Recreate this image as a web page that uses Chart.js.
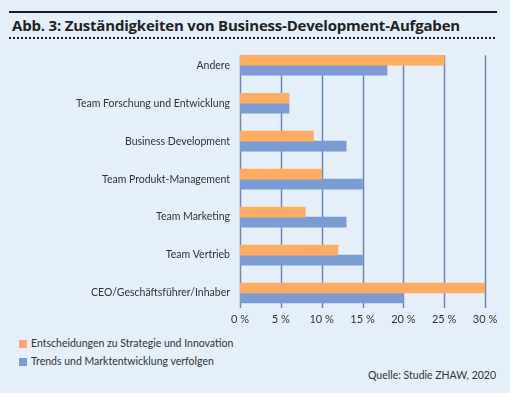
<!DOCTYPE html>
<html>
<head>
<meta charset="utf-8">
<script src="https://cdn.jsdelivr.net/npm/chart.js@4"></script>
<style>
  html, body { margin: 0; padding: 0; background: #fff; }
  #panel { position: relative; width: 510px; height: 393px; background: #e4eff9; font-family: Lato, sans-serif; color: #333; }
  #topline { position: absolute; left: 9px; top: 11px; width: 488px; height: 2px; background: #1a1a1a; }
  #title { position: absolute; left: 12px; top: 15px; font-family: "Open Sans", sans-serif; font-size: 15px; font-weight: bold; color: #222; white-space: nowrap; letter-spacing: -0.2px; }
  #dots { position: absolute; left: 9px; top: 37px; width: 488px; height: 2px;
          background: repeating-linear-gradient(to right, #222 0 2px, transparent 2px 4px); }
  #chart-wrap { position: absolute; left: 0; top: 30px; width: 510px; height: 300px; }
  .legend { position: absolute; left: 19px; font-size: 10.5px; white-space: nowrap; }
  .legend span { display: inline-block; width: 8px; height: 8px; margin-right: 4px; vertical-align: -0.5px; }
  #source { position: absolute; right: 14px; top: 369px; font-size: 10.5px; white-space: nowrap; }
</style>
</head>
<body>
<div id="panel">
  <div id="topline"></div>
  <div id="title">Abb. 3: Zuständigkeiten von Business-Development-Aufgaben</div>
  <div id="dots"></div>
  <div id="chart-wrap"><canvas id="chart"></canvas></div>
  <div class="legend" style="top:337px"><span style="background:#ffa37c"></span>Entscheidungen zu Strategie und Innovation</div>
  <div class="legend" style="top:355px"><span style="background:#7b9cd3"></span>Trends und Marktentwicklung verfolgen</div>
  <div id="source">Quelle: Studie ZHAW, 2020</div>
</div>
<script>
const CATEGORIES = [
  "Andere",
  "Team Forschung und Entwicklung",
  "Business Development",
  "Team Produkt-Management",
  "Team Marketing",
  "Team Vertrieb",
  "CEO/Geschäftsführer/Inhaber",
];
const STRATEGIE = [25, 6, 9, 10, 8, 12, 30];
const TRENDS = [18, 6, 13, 15, 13, 15, 20];
const SERIES_NAMES = ["Entscheidungen zu Strategie und Innovation", "Trends und Marktentwicklung verfolgen"];
const X_TICKS = [0, 5, 10, 15, 20, 25, 30];

const palette = {
  text: "#333333",
  grid: "#6d87b9",
  orange: "#ffab62",
  blue: "#7b9cd3",
};

// vertical gridlines, drawn behind bars, a bit shorter than the category band
const gridPlugin = {
  id: "vgrid",
  beforeDatasetsDraw(chart) {
    const { ctx, chartArea, scales } = chart;
    ctx.save();
    ctx.strokeStyle = palette.grid;
    ctx.lineWidth = 1.5;
    X_TICKS.forEach((v) => {
      const x = Math.round(scales.x.getPixelForValue(v)) + 0.5;
      ctx.beginPath();
      ctx.moveTo(x, chartArea.top + 9);
      ctx.lineTo(x, chartArea.bottom - 4);
      ctx.stroke();
    });
    ctx.restore();
  },
};

new Chart(document.getElementById("chart"), {
  type: "bar",
  data: {
    labels: CATEGORIES,
    datasets: [
      { label: SERIES_NAMES[0], data: STRATEGIE, backgroundColor: palette.orange, barThickness: 10 },
      { label: SERIES_NAMES[1], data: TRENDS, backgroundColor: palette.blue, barThickness: 10 },
    ],
  },
  options: {
    indexAxis: "y",
    animation: false,
    responsive: true,
    maintainAspectRatio: false,
    layout: { padding: { top: 6, right: 25, left: 0, bottom: 0 } },
    scales: {
      x: {
        min: 0,
        max: 30,
        afterBuildTicks: (s) => { s.ticks = X_TICKS.map((v) => ({ value: v })); },
        afterFit: (s) => { s.height = 18; },
        grid: { display: false, drawTicks: false },
        border: { display: false },
        ticks: { color: palette.text, font: { family: "Lato", size: 11 }, padding: 1, callback: (v) => `${v} %` },
      },
      y: {
        afterFit: (s) => { s.width = 240; },
        grid: { display: false, drawTicks: false },
        border: { display: false },
        ticks: { color: palette.text, font: { family: "Lato", size: 10.5 }, padding: 10 },
      },
    },
    plugins: {
      legend: { display: false },
      tooltip: { enabled: false },
    },
  },
  plugins: [gridPlugin],
});
</script>
</body>
</html>
